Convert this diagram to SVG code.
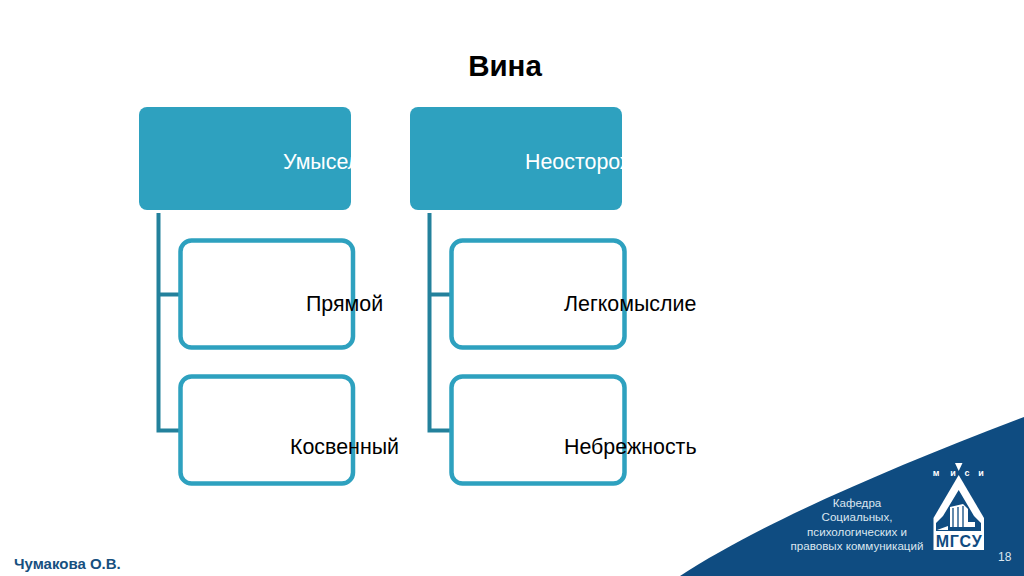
<svg xmlns="http://www.w3.org/2000/svg" width="1024" height="576" viewBox="0 0 1024 576">
<style>
.t{font-family:"Liberation Sans",Arial,sans-serif}
.head{fill:#2ea1bf}
.child{fill:#fff;stroke:#2ea1bf;stroke-width:4.5}
.conn{fill:none;stroke:#23819c;stroke-width:4}
.lab{font-size:21.400px;fill:#000}
.hl{font-size:21.400px;fill:#fff}
.dep{font-size:11.600px;fill:#dbe6ef;text-anchor:middle}
.mi{font-size:9px;font-weight:bold;fill:#fff;text-anchor:middle}
</style>
<defs>
<clipPath id="c1"><rect x="139" y="107" width="212" height="103"/></clipPath>
<clipPath id="c2"><rect x="410" y="107" width="212" height="103"/></clipPath>
</defs>
<rect width="1024" height="576" fill="#fff"/>
<path id="corner" d="M680 576C760 524 880 472 1024 417V576Z" fill="#0f4c81"/>
<text id="title" class="t" x="505" y="76" font-size="29.500" font-weight="bold" text-anchor="middle">Вина</text>
<g id="connectors">
<path class="conn" d="M158.500 213V430.500H180M158.500 294.500H180"/>
<path class="conn" d="M429.500 213V430.500H451M429.500 294.500H451"/>
</g>
<g id="n-umysel"><rect class="head" x="139" y="107" width="212" height="103" rx="8"/><text class="t hl" x="283" y="169" clip-path="url(#c1)">Умысел</text></g>
<g id="n-neost"><rect class="head" x="410" y="107" width="212" height="103" rx="8"/><text class="t hl" x="525" y="169" clip-path="url(#c2)">Неосторож</text></g>
<g id="n-pryamoy"><rect class="child" x="180.500" y="240.500" width="172.500" height="107" rx="11"/><text class="t lab" x="306" y="311">Прямой</text></g>
<g id="n-kosv"><rect class="child" x="180.500" y="376.500" width="172.500" height="107" rx="11"/><text class="t lab" x="290" y="454">Косвенный</text></g>
<g id="n-legk"><rect class="child" x="451.500" y="240.500" width="173" height="107" rx="11"/><text class="t lab" x="564" y="311">Легкомыслие</text></g>
<g id="n-nebr"><rect class="child" x="451.500" y="376.500" width="173" height="107" rx="11"/><text class="t lab" x="564" y="454">Небрежность</text></g>
<text id="author" class="t" x="14" y="569" font-size="15" font-weight="bold" fill="#17507f">Чумакова О.В.</text>
<g id="dept" class="t">
<text class="dep" x="857" y="507">Кафедра</text>
<text class="dep" x="857" y="521">Социальных,</text>
<text class="dep" x="857" y="536">психологических и</text>
<text class="dep" x="857" y="550">правовых коммуникаций</text>
</g>
<text id="page" class="t" x="998" y="561" font-size="12" fill="#dbe6ef">18</text>
<g id="logo">
<path d="M955 463H962.500L958.700 471Z" fill="#fff"/>
<g class="t"><text class="mi" x="936" y="476">м</text><text class="mi" x="953" y="476">и</text><text class="mi" x="967" y="476">с</text><text class="mi" x="981" y="476">и</text></g>
<path d="M958.700 475L984 518V550H933.500V518Z" fill="#fff"/>
<path d="M958.700 490L974 516L981 523V531H936V523L943 516Z" fill="#0f4c81"/>
<path d="M950 507L963 504L968 509V527H950Z" fill="#fff"/>
<path d="M953 508V527M958 507V527M963 506V527" stroke="#0f4c81" stroke-width="1.300" fill="none"/>
<path d="M968 522H975V527H968Z" fill="#fff"/>
<path d="M937 530L948 526V530Z" fill="#fff"/>
<text class="t" x="958.700" y="547" font-size="16" font-weight="bold" fill="#0f4c81" text-anchor="middle" textLength="46">МГСУ</text>
</g>
</svg>
